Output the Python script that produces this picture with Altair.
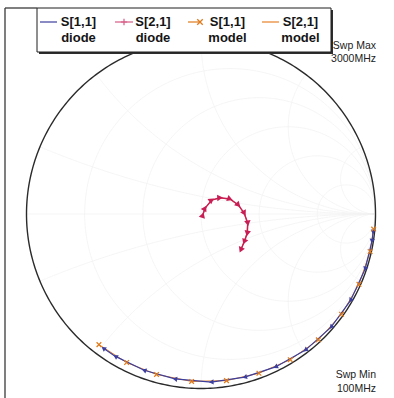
import numpy as np
import pandas as pd
import altair as alt

# ---- measured and modelled traces ----
# S[1,1]: magnitude and phase (degrees) along the sweep
s11_diode_phase = [-6, -9, -18.5, -30, -41, -52.5, -64, -75, -86.5, -99, -110, -121, -126]
s11_diode_mag = [0.992, 0.992, 0.992, 0.990, 0.988, 0.983, 0.975, 0.968, 0.965, 0.957, 0.953, 0.952, 0.951]
s11_model_phase = [-5, -12.5, -24, -35.5, -47, -58.5, -70, -81.3, -93.2, -105.5, -116.6, -128]
s11_model_mag = [0.993, 0.993, 0.991, 0.989, 0.986, 0.979, 0.971, 0.966, 0.961, 0.954, 0.952, 0.950]

# S[2,1]: real / imaginary parts along the sweep
s21_diode_re = [0.010, 0.023, 0.061, 0.109, 0.166, 0.214, 0.248, 0.268, 0.265, 0.248, 0.228]
s21_diode_im = [-0.006, 0.033, 0.080, 0.093, 0.086, 0.052, 0.004, -0.053, -0.111, -0.159, -0.206]
s21_model_re = [0.011, 0.024, 0.062, 0.110, 0.166, 0.213, 0.247, 0.267, 0.264, 0.247, 0.228]
s21_model_im = [-0.005, 0.034, 0.080, 0.092, 0.085, 0.051, 0.004, -0.053, -0.110, -0.158, -0.205]

# legend entries
legend_top = ["S[1,1]", "S[2,1]", "S[1,1]", "S[2,1]"]
legend_bottom = ["diode", "diode", "model", "model"]
c_s11_diode = "#3c3f9e"
c_s21_diode = "#c81e55"
c_s11_model = "#e07a1c"
c_s21_model = "#e8832a"
legend_colors = [c_s11_diode, "#d85c86", c_s11_model, c_s21_model]

# Smith chart grid values
grid_r = [0.2, 0.5, 1.0, 2.0, 5.0]
grid_x = [0.2, 0.5, 1.0, 2.0, 5.0]

# ---- canvas / reflection-plane mapping ----
W, H = 394, 398
CX, CY, R = 201.0, 214.0, 174.5
xs = alt.Scale(domain=[-CX / R, (W - CX) / R], nice=False, zero=False)
ys = alt.Scale(domain=[-(H - CY) / R, CY / R], nice=False, zero=False)
X = alt.X("re:Q", scale=xs, axis=None)
Y = alt.Y("im:Q", scale=ys, axis=None)


def polar_df(mag, phase):
    m = np.asarray(mag, float)
    p = np.radians(np.asarray(phase, float))
    return pd.DataFrame({"re": m * np.cos(p), "im": m * np.sin(p),
                         "i": np.arange(len(m)),
                         "ang": (90.0 - np.asarray(phase, float)) % 360.0})


def rect_df(re, im):
    re = np.asarray(re, float)
    im = np.asarray(im, float)
    dre = np.gradient(re)
    dim = np.gradient(im)
    return pd.DataFrame({"re": re, "im": im, "i": np.arange(len(re)),
                         "ang": np.degrees(np.arctan2(-dim, dre)) % 360.0})


# grid curves
grid_rows = []
t = np.linspace(0, 2 * np.pi, 241)
for k, r in enumerate(grid_r):
    c, rad = r / (1 + r), 1 / (1 + r)
    for j, tt in enumerate(t):
        grid_rows.append({"g": f"r{k}", "i": j, "re": c + rad * np.cos(tt), "im": rad * np.sin(tt)})
rr = np.concatenate([[0], np.geomspace(0.01, 200, 240)])
for k, xv in enumerate(grid_x):
    for sgn in (1, -1):
        z = rr + 1j * sgn * xv
        g = (z - 1) / (z + 1)
        for j, gv in enumerate(g):
            grid_rows.append({"g": f"x{k}{sgn}", "i": j, "re": gv.real, "im": gv.imag})
for j, v in enumerate([-1.0, 1.0]):
    grid_rows.append({"g": "axis", "i": j, "re": v, "im": 0.0})
grid_df = pd.DataFrame(grid_rows)

tc = np.linspace(0, 2 * np.pi, 361)
circle_df = pd.DataFrame({"re": np.cos(tc), "im": np.sin(tc), "i": np.arange(len(tc))})

s11d = polar_df(s11_diode_mag, s11_diode_phase)
s11m = polar_df(s11_model_mag, s11_model_phase)
s21d = rect_df(s21_diode_re, s21_diode_im)
s21m = rect_df(s21_model_re, s21_model_im)

XMARK = "M-1,-1L1,1M-1,1L1,-1"
PLUS = "M-1,0L1,0M0,-1L0,1"

grid = alt.Chart(grid_df).mark_line(color="#f3f3f3", strokeWidth=0.8).encode(
    x=X, y=Y, detail="g:N", order="i:Q")
unit = alt.Chart(circle_df).mark_line(color="#2b2b2b", strokeWidth=1.4).encode(x=X, y=Y, order="i:Q")

s21m_line = alt.Chart(s21m).mark_line(color=c_s21_model, strokeWidth=1).encode(x=X, y=Y, order="i:Q")
s21d_line = alt.Chart(s21d).mark_line(color=c_s21_diode, strokeWidth=1.5).encode(x=X, y=Y, order="i:Q")
s21d_pts = alt.Chart(s21d).mark_point(shape="triangle-right", filled=True, color=c_s21_diode,
                                      size=42, opacity=1).encode(x=X, y=Y, angle=alt.Angle("ang:Q", scale=None))

s11m_line = alt.Chart(s11m).mark_line(color=c_s11_model, strokeWidth=1).encode(x=X, y=Y, order="i:Q")
s11d_line = alt.Chart(s11d).mark_line(color=c_s11_diode, strokeWidth=1.2).encode(x=X, y=Y, order="i:Q")
s11d_pts = alt.Chart(s11d).mark_point(shape="triangle-right", filled=True, color=c_s11_diode,
                                      size=28, opacity=1).encode(x=X, y=Y, angle=alt.Angle("ang:Q", scale=None))
s11m_pts = alt.Chart(s11m).mark_point(shape=XMARK, filled=False, color=c_s11_model,
                                      size=22, strokeWidth=1.2, opacity=1).encode(x=X, y=Y)

one = pd.DataFrame({"k": [0]})

# legend box with drop shadow
shadow = alt.Chart(one).mark_rect(fill="#2e2e2e").encode(
    x=alt.value(39), x2=alt.value(333), y=alt.value(10), y2=alt.value(54))
box = alt.Chart(one).mark_rect(fill="white", stroke="#1e1e1e", strokeWidth=1).encode(
    x=alt.value(37), x2=alt.value(331), y=alt.value(8), y2=alt.value(52))

legend_layers = []
sample_spans = [(40, 57), (115, 133), (188, 200), (262, 279)]
text_centres = [78.5, 153, 227.5, 300.5]
for k in range(4):
    x0, x1 = sample_spans[k]
    legend_layers.append(alt.Chart(one).mark_rule(color=legend_colors[k], strokeWidth=1.2).encode(
        x=alt.value(x0), x2=alt.value(x1), y=alt.value(22)))
    legend_layers.append(alt.Chart(pd.DataFrame({"t": [legend_top[k]]})).mark_text(
        font="Liberation Sans", fontSize=13, fontWeight="bold", color="#151515", align="center",
        baseline="alphabetic").encode(x=alt.value(text_centres[k]), y=alt.value(26), text="t:N"))
    legend_layers.append(alt.Chart(pd.DataFrame({"t": [legend_bottom[k]]})).mark_text(
        font="Liberation Sans", fontSize=13, fontWeight="bold", color="#151515", align="center",
        baseline="alphabetic").encode(x=alt.value(text_centres[k]), y=alt.value(42), text="t:N"))
legend_layers.append(alt.Chart(one).mark_point(shape=PLUS, filled=False, color=legend_colors[1],
                                               size=40, strokeWidth=1.2, opacity=1).encode(
    x=alt.value(124), y=alt.value(22)))
legend_layers.append(alt.Chart(one).mark_point(shape=XMARK, filled=False, color=legend_colors[2],
                                               size=30, strokeWidth=1.3, opacity=1).encode(
    x=alt.value(200), y=alt.value(22)))

swp_lines = ["Swp Max", "3000MHz", "Swp Min", "100MHz"]
swp_y = [49, 62, 378, 392]
swp_layers = [
    alt.Chart(pd.DataFrame({"t": [s]})).mark_text(
        font="Liberation Sans", fontSize=10.5, color="#222", align="right", baseline="alphabetic"
    ).encode(x=alt.value(376), y=alt.value(yy), text="t:N")
    for s, yy in zip(swp_lines, swp_y)
]

frame_left = alt.Chart(one).mark_rule(color="#3a3a3a", strokeWidth=1.3).encode(
    x=alt.value(5), y=alt.value(8), y2=alt.value(H))
frame_top = alt.Chart(one).mark_rule(color="#3a3a3a", strokeWidth=1.3).encode(
    x=alt.value(5), x2=alt.value(37), y=alt.value(8))

chart = alt.layer(
    grid, unit, s21m_line, s21d_line, s21d_pts, s11m_line, s11d_line, s11d_pts, s11m_pts,
    shadow, box, *legend_layers, *swp_layers, frame_left, frame_top
).properties(
    width=W, height=H, padding=0, autosize=alt.AutoSizeParams(type="none"), background="white"
).configure_view(strokeWidth=0)

chart.save("out.html", embed_options={"renderer": "svg", "actions": False})
